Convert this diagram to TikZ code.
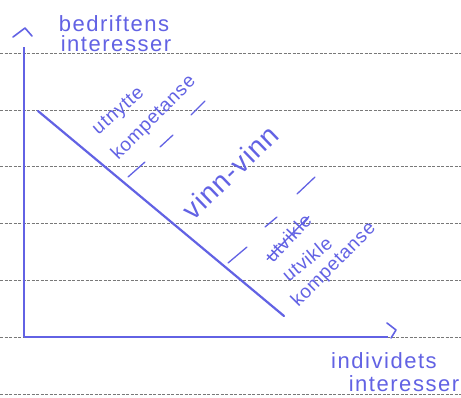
\documentclass[tikz,border=0pt]{standalone}
\usepackage{fontspec}
\setmainfont{Liberation Sans}
\newfontfamily\handfont[LetterSpace=7]{Liberation Sans}
\newfontfamily\handfontb[LetterSpace=4]{Liberation Sans}
\usepackage{tikz}
\definecolor{ink}{RGB}{98,98,228}
\definecolor{rule}{RGB}{120,120,120}
\tikzset{
  paperline/.style={rule, dashed, dash pattern=on 3pt off 1.5pt, line width=0.7pt},
  axisline/.style={ink, line width=2pt},
  chev/.style={ink, line width=1.6pt, line cap=round, line join=round},
  mainline/.style={ink, line width=2.2pt, line cap=round},
  dashsep/.style={ink, line width=1.3pt, line cap=round},
  axlabel/.style={text=ink, inner sep=0pt, font=\handfont\fontsize{22}{22}\selectfont},
  hand/.style={text=ink, inner sep=0pt, font=\handfontb\fontsize{19}{19}\selectfont},
  bighand/.style={text=ink, inner sep=0pt, font=\handfontb\fontsize{28}{28}\selectfont},
}
\begin{document}
\begin{tikzpicture}[x=1pt,y=-1pt]
\useasboundingbox (0,0) rectangle (461,397);
\fill[white] (0,0) rectangle (461,397);
% paper lines
\foreach \yy in {53,110,166,223,280,337,394}
  \draw[paperline] (0,\yy) -- (461,\yy);
% axes
\coordinate (O) at (24,337);
\coordinate (Ytop) at (24,47);
\coordinate (Xend) at (388,337);
\draw[axisline] (O) -- (Ytop);
\draw[axisline] (O) -- (Xend);
\coordinate (ya) at (13,37);
\coordinate (yb) at (25,28);
\coordinate (yc) at (32,36);
\draw[chev] (ya) -- (yb) -- (yc);
\coordinate (xa) at (387,323);
\coordinate (xb) at (396,330);
\coordinate (xc) at (391,338);
\draw[chev] (xa) -- (xb) -- (xc);
% diagonal
\coordinate (Dstart) at (38,111);
\coordinate (Dend) at (284,316);
\draw[mainline] (Dstart) -- (Dend);
% dashed separators
\coordinate (u1a) at (128,177); \coordinate (u1b) at (145,162);
\coordinate (u2a) at (160,147); \coordinate (u2b) at (173,135);
\coordinate (u3a) at (191,115); \coordinate (u3b) at (205,101);
\draw[dashsep] (u1a) -- (u1b);
\draw[dashsep] (u2a) -- (u2b);
\draw[dashsep] (u3a) -- (u3b);
\coordinate (l1a) at (228,263); \coordinate (l1b) at (247,247);
\coordinate (l2a) at (265,227); \coordinate (l2b) at (277,217);
\coordinate (l3a) at (297,194); \coordinate (l3b) at (315,177);
\draw[dashsep] (l1a) -- (l1b);
\draw[dashsep] (l2a) -- (l2b);
\draw[dashsep] (l3a) -- (l3b);
% labels
\node[axlabel] (yl1) at (114,24) {bedriftens};
\node[axlabel] (yl2) at (116,44) {interesser};
\node[axlabel] (xl1) at (384,361) {individets};
\node[axlabel] (xl2) at (404,384) {interesser};
\node[hand, rotate=41] (ut) at (119,112) {utnytte};
\node[hand, rotate=45] (kp1) at (154,118) {kompetanse};
\node[bighand, rotate=44] (vv) at (230,172) {vinn-vinn};
\node[hand, rotate=47] (cr) at (288,238) {utvikle};
\draw[ink, line width=1.3pt] ([xshift=-1pt]cr.west) -- ([xshift=1pt]cr.east);
\node[hand, rotate=40] (uv) at (307,259) {utvikle};
\node[hand, rotate=45] (kp2) at (334,265) {kompetanse};
\end{tikzpicture}
\end{document}
